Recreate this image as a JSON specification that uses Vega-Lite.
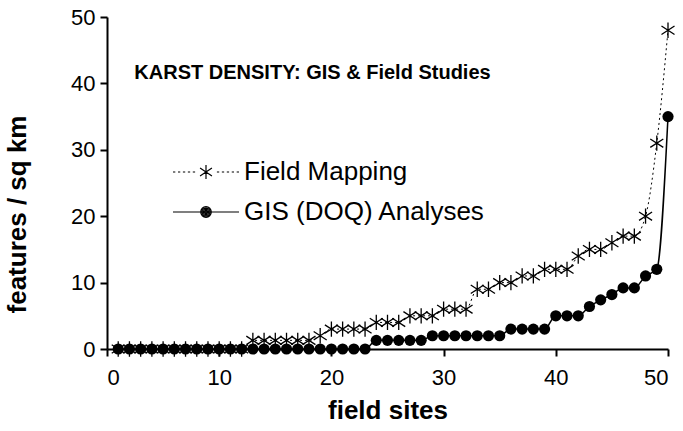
{
  "$schema": "https://vega.github.io/schema/vega-lite/v6.json",
  "width": 561,
  "height": 332,
  "autosize": {"type": "none"},
  "padding": {"left": 107, "top": 17, "right": 15, "bottom": 82},
  "background": "white",
  "config": {
    "view": {"stroke": null},
    "font": "Liberation Sans",
    "axis": {
      "grid": false,
      "domainColor": "black",
      "domainWidth": 2,
      "tickColor": "black",
      "tickWidth": 2,
      "tickSize": 7,
      "labelColor": "black",
      "labelFont": "Liberation Sans",
      "labelFontSize": 22,
      "titleColor": "black",
      "titleFont": "Liberation Sans",
      "titleFontSize": 26,
      "titleFontWeight": "bold"
    }
  },
  "title": {
    "text": "KARST DENSITY: GIS & Field Studies",
    "font": "Liberation Sans",
    "fontSize": 20,
    "fontWeight": "bold",
    "color": "black",
    "anchor": "middle",
    "frame": "group",
    "baseline": "middle",
    "offset": 0,
    "dx": -75,
    "dy": 87
  },
  "data": {
    "values": [
      {"site": 1, "field": 0, "gis": 0},
      {"site": 2, "field": 0, "gis": 0},
      {"site": 3, "field": 0, "gis": 0},
      {"site": 4, "field": 0, "gis": 0},
      {"site": 5, "field": 0, "gis": 0},
      {"site": 6, "field": 0, "gis": 0},
      {"site": 7, "field": 0, "gis": 0},
      {"site": 8, "field": 0, "gis": 0},
      {"site": 9, "field": 0, "gis": 0},
      {"site": 10, "field": 0, "gis": 0},
      {"site": 11, "field": 0, "gis": 0},
      {"site": 12, "field": 0, "gis": 0},
      {"site": 13, "field": 1.3, "gis": 0},
      {"site": 14, "field": 1.3, "gis": 0},
      {"site": 15, "field": 1.3, "gis": 0},
      {"site": 16, "field": 1.3, "gis": 0},
      {"site": 17, "field": 1.3, "gis": 0},
      {"site": 18, "field": 1.3, "gis": 0},
      {"site": 19, "field": 2, "gis": 0},
      {"site": 20, "field": 3, "gis": 0},
      {"site": 21, "field": 3, "gis": 0},
      {"site": 22, "field": 3, "gis": 0},
      {"site": 23, "field": 3, "gis": 0},
      {"site": 24, "field": 4, "gis": 1.3},
      {"site": 25, "field": 4, "gis": 1.3},
      {"site": 26, "field": 4, "gis": 1.3},
      {"site": 27, "field": 5, "gis": 1.3},
      {"site": 28, "field": 5, "gis": 1.3},
      {"site": 29, "field": 5, "gis": 2},
      {"site": 30, "field": 6, "gis": 2},
      {"site": 31, "field": 6, "gis": 2},
      {"site": 32, "field": 6, "gis": 2},
      {"site": 33, "field": 9, "gis": 2},
      {"site": 34, "field": 9, "gis": 2},
      {"site": 35, "field": 10, "gis": 2},
      {"site": 36, "field": 10, "gis": 3},
      {"site": 37, "field": 11, "gis": 3},
      {"site": 38, "field": 11, "gis": 3},
      {"site": 39, "field": 12, "gis": 3},
      {"site": 40, "field": 12, "gis": 5},
      {"site": 41, "field": 12, "gis": 5},
      {"site": 42, "field": 14, "gis": 5},
      {"site": 43, "field": 15, "gis": 6.4},
      {"site": 44, "field": 15, "gis": 7.4},
      {"site": 45, "field": 16, "gis": 8.2},
      {"site": 46, "field": 17, "gis": 9.2},
      {"site": 47, "field": 17, "gis": 9.2},
      {"site": 48, "field": 20, "gis": 11},
      {"site": 49, "field": 31, "gis": 12},
      {"site": 50, "field": 48, "gis": 35}
    ]
  },
  "encoding": {
    "x": {
      "field": "site",
      "type": "quantitative",
      "scale": {"domain": [0, 50], "nice": false, "zero": false},
      "axis": {"values": [0, 10, 20, 30, 40, 50], "title": "field sites", "labelPadding": 11, "titlePadding": 9}
    }
  },
  "layer": [
    {
      "mark": {"type": "line", "color": "black", "strokeWidth": 1, "strokeDash": [2, 3], "interpolate": "monotone"},
      "encoding": {
        "y": {
          "field": "field",
          "type": "quantitative",
          "scale": {"domain": [0, 50], "nice": false},
          "axis": {"values": [0, 10, 20, 30, 40, 50], "title": "features / sq km", "labelPadding": 5, "titlePadding": 40, "titleY": 197}
        }
      }
    },
    {
      "mark": {"type": "point", "shape": "M0,-1V1M-0.85,-0.55L0.85,0.55M-0.85,0.55L0.85,-0.55", "size": 235, "filled": false, "color": "black", "strokeWidth": 1.3, "opacity": 1},
      "encoding": {"y": {"field": "field", "type": "quantitative"}}
    },
    {
      "mark": {"type": "line", "color": "black", "strokeWidth": 1.5, "interpolate": "monotone"},
      "encoding": {"y": {"field": "gis", "type": "quantitative"}}
    },
    {
      "mark": {"type": "point", "shape": "circle", "size": 125, "filled": true, "color": "black", "opacity": 1},
      "encoding": {"y": {"field": "gis", "type": "quantitative"}}
    },
    {
      "transform": [{"filter": "false"}],
      "mark": {"type": "point", "filled": false, "color": "black", "strokeWidth": 1.2, "opacity": 1, "size": 4356},
      "encoding": {
        "y": {"field": "gis", "type": "quantitative"},
        "shape": {
          "datum": "Field Mapping",
          "type": "nominal",
          "scale": {
            "domain": ["Field Mapping", "GIS (DOQ) Analyses"],
            "range": [
              "M-1,0H-0.93M-0.85,0H-0.78M-0.7,0H-0.63M-0.55,0H-0.48M-0.4,0H-0.33M0,-0.21V0.21M-0.18,-0.12L0.18,0.12M-0.18,0.12L0.18,-0.12M0.33,0H0.4M0.48,0H0.55M0.63,0H0.7M0.78,0H0.85M0.93,0H1",
              "M-1,0H1M0.16,0A0.16,0.16 0 1,1 -0.16,0A0.16,0.16 0 1,1 0.16,0ZM0.12,0A0.12,0.12 0 1,1 -0.12,0A0.12,0.12 0 1,1 0.12,0ZM0.08,0A0.08,0.08 0 1,1 -0.08,0A0.08,0.08 0 1,1 0.08,0ZM0.04,0A0.04,0.04 0 1,1 -0.04,0A0.04,0.04 0 1,1 0.04,0Z"
            ]
          },
          "legend": {
            "orient": "none",
            "legendX": 65,
            "legendY": 135,
            "title": null,
            "symbolSize": 4356,
            "symbolFillColor": "black",
            "symbolStrokeColor": "black",
            "symbolStrokeWidth": 1.2,
            "symbolOpacity": 1,
            "labelFont": "Liberation Sans",
            "labelFontSize": 26,
            "labelColor": "black",
            "labelOffset": 4,
            "labelLimit": 500,
            "clipHeight": 40,
            "rowPadding": 0
          }
        }
      }
    }
  ]
}
